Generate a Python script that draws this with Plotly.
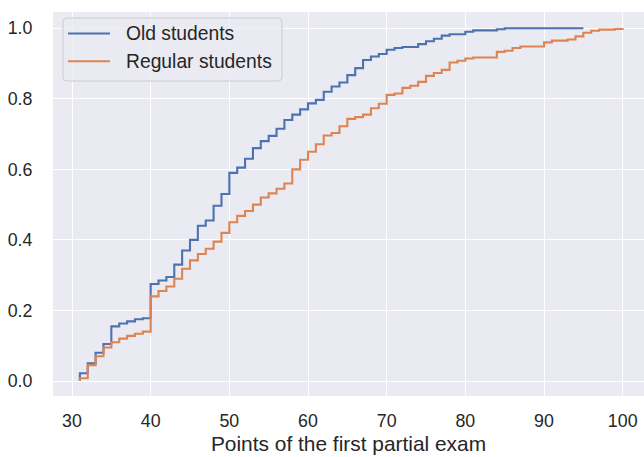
import plotly.graph_objects as go

old_scores = [31, 32, 33, 34, 35, 36, 37, 38, 39, 40, 41, 42, 43, 44, 45, 46, 47, 48, 49,
              50, 51, 52, 53, 54, 55, 56, 57, 58, 59, 60, 61, 62, 63, 64, 65, 66, 67, 68,
              69, 70, 71, 72, 74, 75, 76, 77, 78, 80, 81, 84, 85, 95]
old_ecdf = [0.022, 0.05, 0.08, 0.105, 0.155, 0.163, 0.169, 0.175, 0.178, 0.275, 0.285,
            0.295, 0.33, 0.37, 0.40, 0.44, 0.455, 0.497, 0.53, 0.59, 0.605, 0.63, 0.66,
            0.68, 0.695, 0.715, 0.74, 0.755, 0.77, 0.787, 0.797, 0.82, 0.835, 0.846,
            0.867, 0.887, 0.91, 0.92, 0.927, 0.939, 0.944, 0.947, 0.955, 0.963, 0.97,
            0.979, 0.983, 0.99, 0.994, 0.997, 1.0, 1.0]

reg_scores = [31, 32, 33, 34, 35, 36, 37, 38, 39, 40, 41, 42, 43, 44, 45, 46, 47, 48, 49,
              50, 51, 52, 53, 54, 55, 56, 57, 58, 59, 60, 61, 62, 63, 64, 65, 66, 67, 68,
              69, 70, 71, 72, 73, 74, 75, 76, 77, 78, 79, 80, 81, 84, 85, 86, 87, 90, 91,
              93, 94, 95, 96, 97, 99, 100]
reg_ecdf = [0.008, 0.045, 0.07, 0.095, 0.11, 0.12, 0.128, 0.134, 0.14, 0.24, 0.255,
            0.268, 0.29, 0.318, 0.342, 0.36, 0.375, 0.395, 0.42, 0.45, 0.468, 0.482,
            0.5, 0.52, 0.532, 0.545, 0.56, 0.6, 0.627, 0.65, 0.671, 0.696, 0.703, 0.722,
            0.743, 0.748, 0.755, 0.773, 0.786, 0.811, 0.815, 0.831, 0.837, 0.848, 0.865,
            0.873, 0.882, 0.903, 0.908, 0.914, 0.917, 0.933, 0.936, 0.944, 0.948, 0.96,
            0.965, 0.968, 0.977, 0.987, 0.993, 0.996, 0.998, 1.0]

series_names = ["Old students", "Regular students"]
x_ticks = [30, 40, 50, 60, 70, 80, 90, 100]
y_ticks = [0.0, 0.2, 0.4, 0.6, 0.8, 1.0]

BLUE = "#4C72B0"
ORANGE = "#DD8452"
TEXT = "#262626"
FONT = "Liberation Sans, Arial, sans-serif"
TICK_SIZE = 17.8
LEG_SIZE = 19.3
LABEL_SIZE = 20.9

W, H = 644, 457
ML, MR, MT, MB = 53, 0, 12, 61

fig = go.Figure()
for name, xs, ys, col in [(series_names[0], old_scores, old_ecdf, BLUE),
                          (series_names[1], reg_scores, reg_ecdf, ORANGE)]:
    fig.add_trace(go.Scatter(
        x=[xs[0]] + xs, y=[0.0] + ys, mode="lines", name=name,
        line=dict(color=col, width=2.1, shape="hv"), showlegend=False))

# ---- manual matplotlib-like legend ----
pw, ph = W - ML - MR, H - MT - MB
def px(xp):
    return (xp - ML) / pw
def py(yp):
    return (H - MB - yp) / ph

bx0, bx1, by0, by1, r = 63, 282, 18, 81, 4
rx, ry = r / pw, r / ph
path = (f"M {px(bx0)+rx} {py(by0)} L {px(bx1)-rx} {py(by0)} "
        f"Q {px(bx1)} {py(by0)} {px(bx1)} {py(by0)-ry} "
        f"L {px(bx1)} {py(by1)+ry} Q {px(bx1)} {py(by1)} {px(bx1)-rx} {py(by1)} "
        f"L {px(bx0)+rx} {py(by1)} Q {px(bx0)} {py(by1)} {px(bx0)} {py(by1)+ry} "
        f"L {px(bx0)} {py(by0)-ry} Q {px(bx0)} {py(by0)} {px(bx0)+rx} {py(by0)} Z")
shapes = [dict(type="path", xref="paper", yref="paper", path=path,
               fillcolor="rgba(234,234,242,0.8)", line=dict(color="#cccccc", width=1),
               layer="above")]
annotations = []
for i, (name, col) in enumerate(zip(series_names, [BLUE, ORANGE])):
    yc = 33.5 + i * 27.7
    shapes.append(dict(type="line", xref="paper", yref="paper",
                       x0=px(68), x1=px(110), y0=py(yc), y1=py(yc),
                       line=dict(color=col, width=2.1), layer="above"))
    annotations.append(dict(xref="paper", yref="paper", x=px(124), y=py(yc),
                            text=name, showarrow=False, xanchor="left", yanchor="middle",
                            font=dict(family=FONT, size=LEG_SIZE, color=TEXT)))

fig.update_layout(
    width=W, height=H, autosize=False,
    margin=dict(l=ML, r=MR, t=MT, b=MB, pad=0),
    paper_bgcolor="white", plot_bgcolor="#EAEAF2",
    font=dict(family=FONT, size=TICK_SIZE, color=TEXT),
    shapes=shapes, annotations=annotations,
)
fig.update_xaxes(
    range=[27.585, 102.71], tickvals=x_ticks, ticktext=[str(v) for v in x_ticks],
    showgrid=True, gridcolor="white", gridwidth=1.4, zeroline=False, showline=False,
    ticks="outside", ticklen=9, tickcolor="rgba(0,0,0,0)",
    tickfont=dict(family=FONT, size=TICK_SIZE, color=TEXT),
    title=dict(text="Points of the first partial exam", standoff=6,
               font=dict(family=FONT, size=LABEL_SIZE, color=TEXT)),
)
fig.update_yaxes(
    range=[-0.0425, 1.046], tickvals=y_ticks, ticktext=[f"{v:.1f}" for v in y_ticks],
    showgrid=True, gridcolor="white", gridwidth=1.4, zeroline=False, showline=False,
    ticks="outside", ticklen=16, tickcolor="rgba(0,0,0,0)",
    tickfont=dict(family=FONT, size=TICK_SIZE, color=TEXT),
)

fig.write_html("out.html")
